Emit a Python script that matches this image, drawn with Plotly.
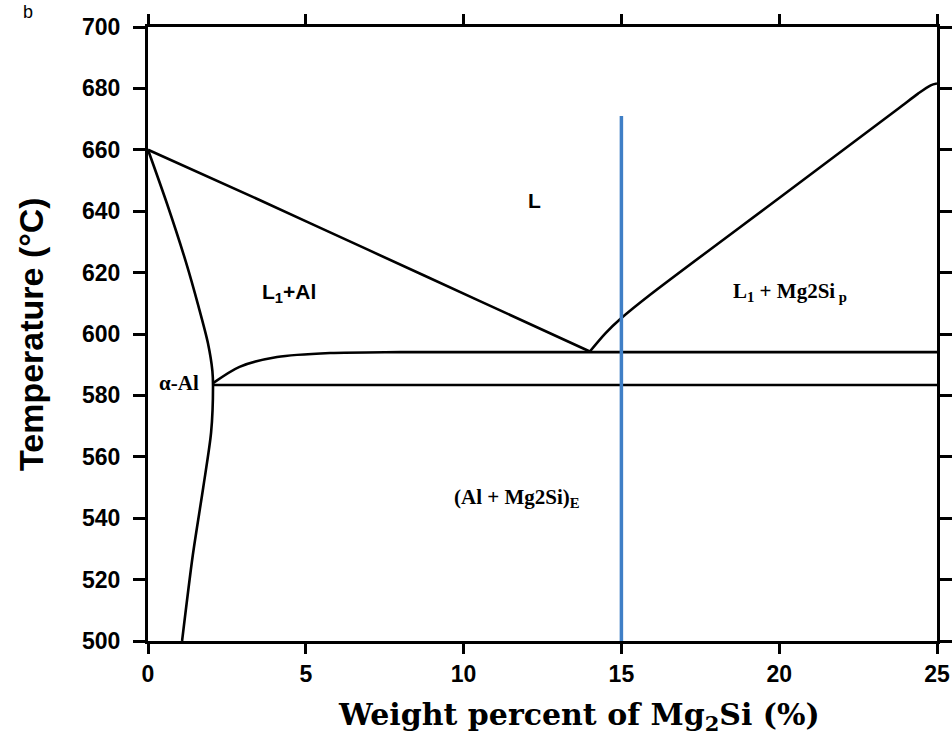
import plotly.graph_objects as go

# ---- data ----
liq_left_x = [0, 3.5, 7, 10.5, 14.0]
liq_left_t = [660, 643.8, 627.3, 610.8, 594.3]

liq_right_x = [14.0, 14.5, 15.0, 15.9, 20.0, 23.8, 24.4, 24.8, 25.0]
liq_right_t = [594.3, 600.3, 605.2, 612.7, 644.3, 673.6, 678.3, 681.0, 681.6]

solvus_x = [0, 0.6, 1.2, 1.6, 1.9, 2.04, 2.06, 2.0, 1.75, 1.42, 1.08]
solvus_t = [660, 642.5, 623.5, 609, 597, 588, 583, 568, 550, 528, 500]

solidus_x = [2.06, 2.9, 4.09, 5.77, 8, 25]
solidus_t = [584.0, 589.3, 592.5, 593.8, 594.1, 594.1]

eut_line_x = [2.06, 25]
eut_line_t = [583.4, 583.4]

alloy_x = [15, 15]
alloy_t = [500, 671]

x_ticks = [0, 5, 10, 15, 20, 25]
y_ticks = [500, 520, 540, 560, 580, 600, 620, 640, 660, 680, 700]

region_labels = ["L", "L<sub>1</sub>+Al", "L<sub>1</sub> + Mg2Si<sub> p</sub>", "α-Al", "(Al + Mg2Si)<sub>E</sub>"]
region_x = [12.26, 4.47, 20.34, 0.98, 11.7]
region_t = [643.6, 613.4, 613.7, 584.0, 546.6]

# ---- figure ----
fig = go.Figure()
black = dict(color="black", width=2.6)
for xs, ts in [(liq_left_x, liq_left_t), (liq_right_x, liq_right_t), (solvus_x, solvus_t),
               (solidus_x, solidus_t), (eut_line_x, eut_line_t)]:
    fig.add_trace(go.Scatter(x=xs, y=ts, mode="lines", line=dict(black, shape="spline", smoothing=0.8),
                             showlegend=False, hoverinfo="skip"))
fig.add_trace(go.Scatter(x=alloy_x, y=alloy_t, mode="lines", line=dict(color="#3f7fc6", width=3.5),
                         showlegend=False, hoverinfo="skip"))

serif = "Liberation Serif, Times New Roman, serif"
sans = "Liberation Sans, Arial, sans-serif"
for txt, x, t in zip(region_labels, region_x, region_t):
    fam = sans if txt in ("L", "L<sub>1</sub>+Al") else serif
    fig.add_annotation(x=x, y=t, text=txt, showarrow=False, xanchor="center", yanchor="middle",
                       font=dict(family=fam, size=21, color="black", weight="bold"))

# axis titles
fig.add_annotation(xref="paper", yref="paper", x=(579 - 148) / 789, y=(641 - 716) / 614,
                   text="Weight percent of Mg<sub>2</sub>Si (%)", showarrow=False,
                   xanchor="center", yanchor="middle",
                   font=dict(family="DejaVu Serif, serif", size=30, color="black", weight="bold"))
fig.add_annotation(xref="paper", yref="paper", x=(31 - 148) / 789, y=0.5,
                   text="Temperature (°C)", showarrow=False, textangle=-90,
                   xanchor="center", yanchor="middle",
                   font=dict(family=sans, size=34, color="black", weight="bold"))
# panel label at the top-left corner
fig.add_annotation(xref="paper", yref="paper", x=(28 - 148) / 789, y=(641 + 0) / 614,
                   text="b", showarrow=False, xanchor="center", yanchor="top",
                   font=dict(family=sans, size=18, color="black"))

axis_common = dict(showline=True, linecolor="black", linewidth=3.2, mirror="allticks",
                   ticks="outside", tickcolor="black", tickwidth=2.5,
                   showgrid=False, zeroline=False,
                   tickfont=dict(family=sans, size=23, color="black", weight="bold"))
fig.update_xaxes(range=[0, 25], tickvals=x_ticks, ticklen=10, **axis_common)
fig.update_yaxes(range=[500, 700], tickvals=y_ticks, ticklen=12, ticklabelstandoff=8, **axis_common)

fig.update_layout(width=952, height=741, margin=dict(l=148, r=15, t=27, b=100, autoexpand=False),
                  plot_bgcolor="white", paper_bgcolor="white")

fig.write_html("out.html")
